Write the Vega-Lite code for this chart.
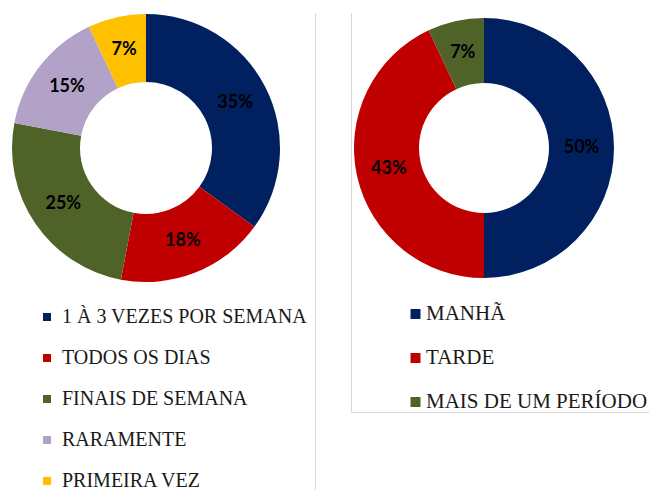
{
  "$schema": "https://vega.github.io/schema/vega-lite/v6.json",
  "padding": {"left": 12, "top": 12, "right": 0, "bottom": 0},
  "background": "white",
  "config": {"view": {"stroke": null}},
  "datasets": {
    "freq": [
      {"k": 1, "cat": "1 À 3 VEZES POR SEMANA", "share": 0.35},
      {"k": 2, "cat": "TODOS OS DIAS", "share": 0.18},
      {"k": 3, "cat": "FINAIS DE SEMANA", "share": 0.25},
      {"k": 4, "cat": "RARAMENTE", "share": 0.15},
      {"k": 5, "cat": "PRIMEIRA VEZ", "share": 0.07}
    ],
    "periodo": [
      {"k": 1, "cat": "MANHÃ", "share": 0.50},
      {"k": 2, "cat": "TARDE", "share": 0.43},
      {"k": 3, "cat": "MAIS DE UM PERÍODO", "share": 0.07}
    ]
  },
  "spacing": 35,
  "bounds": "flush",
  "resolve": {"scale": {"color": "independent", "theta": "independent"}, "legend": {"color": "independent"}},
  "hconcat": [
    {
      "width": 268,
      "height": 270,
      "data": {"name": "freq"},
      "encoding": {
        "theta": {"field": "share", "type": "quantitative", "stack": true},
        "order": {"field": "k", "type": "quantitative"}
      },
      "layer": [
        {
          "mark": {"type": "arc", "innerRadius": 66, "outerRadius": 134},
          "encoding": {
            "color": {
              "field": "cat", "type": "nominal", "title": null,
              "scale": {
                "domain": ["1 À 3 VEZES POR SEMANA", "TODOS OS DIAS", "FINAIS DE SEMANA", "RARAMENTE", "PRIMEIRA VEZ"],
                "range": ["#002060", "#C00000", "#4F6228", "#B3A2C7", "#FFC000"]
              },
              "legend": {
                "orient": "none", "legendX": 25, "legendY": 294, "direction": "vertical",
                "symbolType": "square", "symbolSize": 64, "symbolStrokeWidth": 0,
                "labelFont": "Liberation Serif", "labelFontSize": 20, "labelColor": "#1a1a1a",
                "labelLimit": 400, "labelOffset": 5, "rowPadding": 21, "padding": 0
              }
            }
          }
        },
        {
          "mark": {"type": "text", "radius": 100, "font": "Lato", "fontWeight": "bold", "fontSize": 18, "color": "#000000"},
          "encoding": {
            "detail": {"field": "cat", "type": "nominal"},
            "text": {"field": "share", "type": "quantitative", "format": ".0%"}
          }
        }
      ]
    },
    {
      "width": 0.01,
      "height": 480,
      "view": {"stroke": "#d9d9d9", "strokeWidth": 1},
      "data": {"values": []},
      "mark": "point",
      "encoding": {}
    },
    {
      "spacing": 0,
      "bounds": "flush",
      "resolve": {"scale": {"color": "independent", "theta": "independent"}, "legend": {"color": "independent"}},
      "hconcat": [
        {
          "width": 0.01,
          "height": 399,
          "view": {"stroke": "#d9d9d9", "strokeWidth": 1},
          "data": {"values": []},
          "mark": "point",
          "encoding": {}
        },
        {
          "spacing": 129,
          "bounds": "flush",
          "resolve": {"scale": {"color": "independent", "theta": "independent"}, "legend": {"color": "independent"}},
          "vconcat": [
            {
              "width": 264,
              "height": 270,
              "data": {"name": "periodo"},
              "encoding": {
                "theta": {"field": "share", "type": "quantitative", "stack": true},
                "order": {"field": "k", "type": "quantitative"}
              },
              "layer": [
                {
                  "mark": {"type": "arc", "innerRadius": 65, "outerRadius": 130},
                  "encoding": {
                    "color": {
                      "field": "cat", "type": "nominal", "title": null,
                      "scale": {
                        "domain": ["MANHÃ", "TARDE", "MAIS DE UM PERÍODO"],
                        "range": ["#002060", "#C00000", "#4F6228"]
                      },
                      "legend": {
                        "orient": "none", "legendX": 53, "legendY": 290.5, "direction": "vertical",
                        "symbolType": "square", "symbolSize": 100, "symbolStrokeWidth": 0,
                        "labelFont": "Liberation Serif", "labelFontSize": 21, "labelColor": "#1a1a1a",
                        "labelLimit": 400, "labelOffset": 0, "rowPadding": 22, "padding": 0
                      }
                    }
                  }
                },
                {
                  "mark": {"type": "text", "radius": 97.5, "font": "Lato", "fontWeight": "bold", "fontSize": 18, "color": "#000000"},
                  "encoding": {
                    "detail": {"field": "cat", "type": "nominal"},
                    "text": {"field": "share", "type": "quantitative", "format": ".0%"}
                  }
                }
              ]
            },
            {
              "width": 300,
              "height": 0.01,
              "view": {"stroke": "#d9d9d9", "strokeWidth": 1},
              "data": {"values": []},
              "mark": "point",
              "encoding": {}
            }
          ]
        }
      ]
    }
  ]
}
